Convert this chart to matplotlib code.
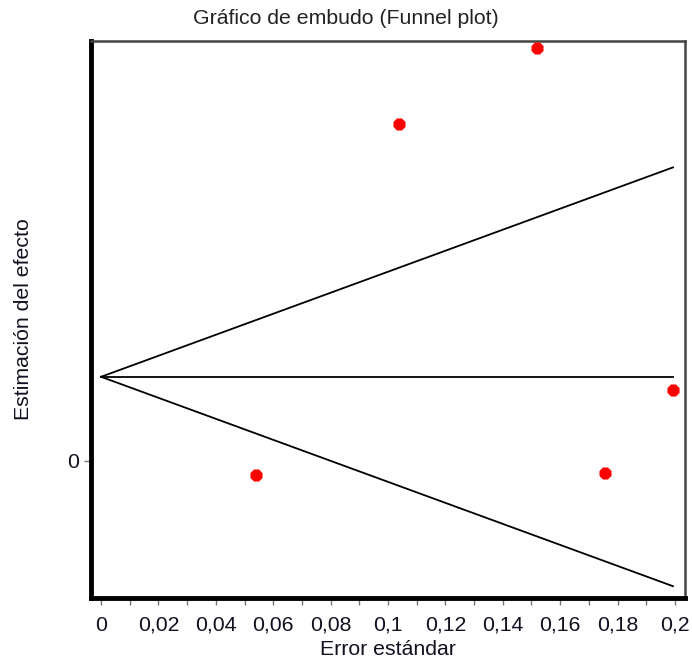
import numpy as np
import matplotlib.pyplot as plt
from matplotlib.ticker import FixedLocator, MultipleLocator, FuncFormatter

# estudios: error estandar y estimacion del efecto
std_err = [0.054, 0.104, 0.152, 0.1756, 0.1993]
effect = [-0.026, 0.629, 0.771, -0.022, 0.132]
pooled = 0.157
x_ticks = [0, 0.02, 0.04, 0.06, 0.08, 0.1, 0.12, 0.14, 0.16, 0.18, 0.2]

plt.rcParams['font.family'] = ['Liberation Sans', 'DejaVu Sans']
FS = 15.3

fig = plt.figure(figsize=(6.92, 6.65), dpi=100)
ax = fig.add_axes([0.1315, 0.1008, 0.8584, 0.838])

# embudo: lineas de pseudo-confianza al 95%
se_max = max(std_err)
se_line = np.array([0, se_max])
ax.plot(se_line, pooled + 1.96 * se_line, color='black', lw=1.3)
ax.plot(se_line, pooled - 1.96 * se_line, color='black', lw=1.3)
ax.plot(se_line, [pooled, pooled], color='black', lw=1.3)

ax.scatter(std_err, effect, s=88, color='red', marker='8', zorder=3, linewidths=0)

ax.set_xlim(-0.0035, 0.2035)
ax.set_ylim(-0.2556, 0.784)

ax.xaxis.set_major_locator(FixedLocator(x_ticks))
ax.xaxis.set_minor_locator(MultipleLocator(0.01))
ax.xaxis.set_major_formatter(FuncFormatter(lambda v, p: f'{v:g}'.replace('.', ',')))
ax.yaxis.set_major_locator(FixedLocator([0]))

for side in ['left', 'bottom']:
    ax.spines[side].set_linewidth(3.5)
    ax.spines[side].set_color('black')
for side in ['top', 'right']:
    ax.spines[side].set_linewidth(1.8)
    ax.spines[side].set_color('#444444')

ax.tick_params(axis='both', which='major', length=5.3, width=1, color='#777777',
               labelsize=FS, labelcolor='#111122')
ax.tick_params(axis='x', which='major', pad=7.5)
ax.tick_params(axis='y', which='major', pad=3.5)
ax.tick_params(axis='x', which='minor', length=5.3, width=1, color='#777777')

fig.text(0.5, 1 - 18 / 665, 'Gráfico de embudo (Funnel plot)', fontsize=FS,
         ha='center', va='center', color='#222222')
ax.set_xlabel('Error estándar', fontsize=FS, labelpad=3.5, color='#111122')
ax.set_ylabel('Estimación del efecto', fontsize=FS, color='#111122')
ax.yaxis.set_label_coords(-0.098, 0.5)

plt.savefig('out.png', dpi=100)
